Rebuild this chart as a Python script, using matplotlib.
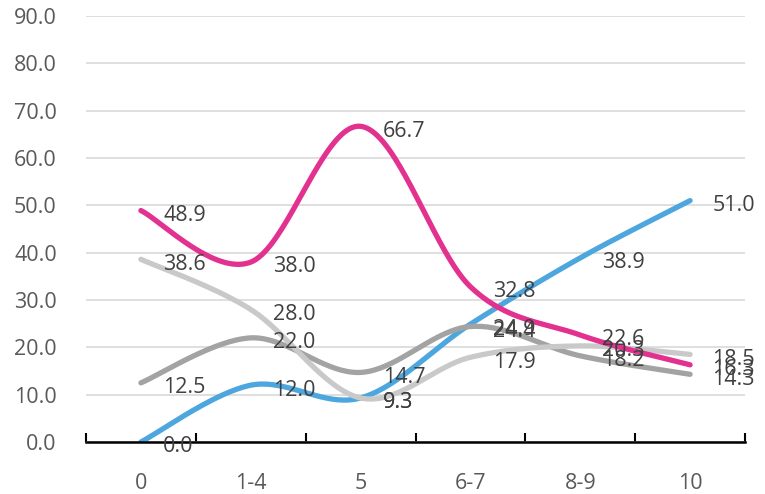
import numpy as np
import matplotlib.pyplot as plt

categories = ['0', '1-4', '5', '6-7', '8-9', '10']
blue_vals = [0.0, 12.0, 9.3, 24.9, 38.9, 51.0]
pink_vals = [48.9, 38.0, 66.7, 32.8, 22.6, 16.3]
dgray_vals = [12.5, 22.0, 14.7, 24.4, 18.2, 14.3]
lgray_vals = [38.6, 28.0, 9.3, 17.9, 20.3, 18.5]


def smooth(y, n=40):
    # Excel-like smoothed line: cubic bezier with catmull-rom control points
    x = np.arange(len(y), dtype=float)
    y = np.asarray(y, dtype=float)
    xs, ys = [], []
    for i in range(len(y) - 1):
        p0 = np.array([x[max(i - 1, 0)], y[max(i - 1, 0)]])
        p1 = np.array([x[i], y[i]])
        p2 = np.array([x[i + 1], y[i + 1]])
        p3 = np.array([x[min(i + 2, len(y) - 1)], y[min(i + 2, len(y) - 1)]])
        c1 = p1 + (p2 - p0) / 6
        c2 = p2 - (p3 - p1) / 6
        t = np.linspace(0, 1, n)[:, None]
        pts = (1 - t) ** 3 * p1 + 3 * (1 - t) ** 2 * t * c1 + 3 * (1 - t) * t ** 2 * c2 + t ** 3 * p2
        xs.extend(pts[:, 0])
        ys.extend(pts[:, 1])
    return np.array(xs), np.array(ys)


plt.rcParams['font.family'] = ['Open Sans', 'DejaVu Sans']
fig = plt.figure(figsize=(7.65, 4.94), dpi=100)
ax = fig.add_axes([86 / 765, 52 / 494, 659 / 765, 426 / 494])

series = [
    (blue_vals, '#4DA6DE'),
    (dgray_vals, '#A3A3A3'),
    (lgray_vals, '#C9C9C9'),
    (pink_vals, '#E2318E'),
]
for vals, col in series:
    sx, sy = smooth(vals)
    ax.plot(sx, sy, color=col, lw=3.8, solid_capstyle='round', zorder=3)

for vals, col in series:
    for i, v in enumerate(vals):
        ax.annotate(f'{v:.1f}', (i, v), xytext=(16, -3.5), textcoords='offset points',
                    ha='left', va='center', fontsize=15.5, color='#404040',
                    zorder=5, annotation_clip=False)

ax.set_xlim(-0.5, 5.5)
ax.set_ylim(0, 90)
ax.set_yticks(np.arange(0, 91, 10))
ax.set_yticklabels([f'{v:.1f}' for v in np.arange(0, 91, 10)])
ax.yaxis.grid(True, color='#D9D9D9', lw=1.2)
ax.set_axisbelow(True)
ax.set_xticks(range(len(categories)))
ax.set_xticklabels(categories)
ax.set_xticks(np.arange(-0.5, 5.6, 1), minor=True)
ax.tick_params(axis='x', which='major', length=0, pad=22, labelsize=15.5, labelcolor='#595959')
ax.tick_params(axis='x', which='minor', length=6.5, width=1.5, direction='in', color='black')
ax.tick_params(axis='y', length=0, pad=21, labelsize=15.5, labelcolor='#595959')
for s in ['top', 'right', 'left']:
    ax.spines[s].set_visible(False)
ax.spines['bottom'].set_linewidth(1.8)
ax.spines['bottom'].set_zorder(4)

fig.savefig('out.png', dpi=100)
